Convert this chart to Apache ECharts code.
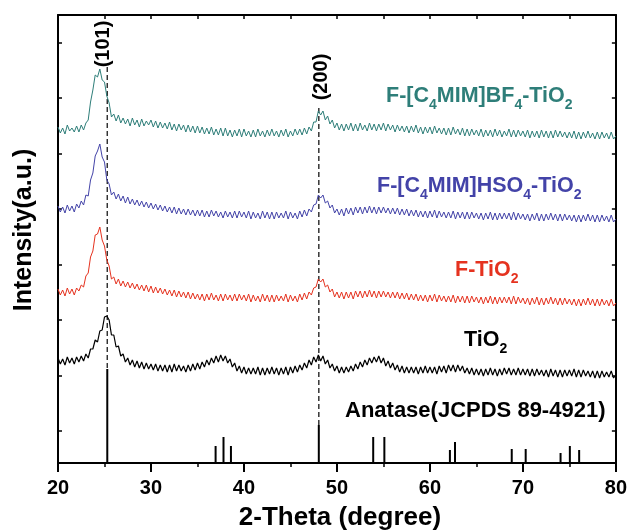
<!DOCTYPE html>
<html><head><meta charset="utf-8">
<script src="https://cdn.jsdelivr.net/npm/echarts@6/dist/echarts.min.js"></script>
<style>html,body{margin:0;padding:0;background:#fff}#c{width:630px;height:530px}</style>
</head><body><div id="c"></div><script>
// 2-Theta sampling of the patterns (degrees)
const thetaStart = 20, thetaStep = 0.25;

// Intensity (a.u., offset stacked), 20..80 deg every 0.25 deg
const bf4Values = [336,330,335,329, 338,332,335,331, 337,331,338,333, 340,343,361,373, 388,386,394,383, 381,367,360,346, 349,342,348,340, 345,339,344,337, 345,338,343,336, 344,337,342,338, 343,336,342,335, 341,335,340,334, 341,333,339,332, 339,333,338,331, 338,331,337,330, 337,330,336,329, 335,329,336,328, 334,328,335,327, 335,327,333,326, 333,327,334,326, 334,327,332,326, 333,326,334,327, 332,326,333,327, 334,327,332,326, 333,327,334,326, 332,327,334,328, 334,328,335,329, 336,332,341,341, 352,348,352,343, 347,339,343,335, 340,333,339,332, 339,333,340,332, 339,332,340,333, 338,332,340,333, 339,332,339,333, 340,332,339,333, 338,331,338,332, 337,331,337,330, 337,331,338,330, 336,329,336,330, 336,329,337,330, 335,329,335,328, 335,328,336,329, 334,328,335,327, 334,327,334,328, 333,327,334,326, 333,327,333,326, 334,327,333,326, 332,327,334,326, 333,326,333,327, 332,326,333,325, 332,326,332,325, 333,326,332,325, 332,325,333,326, 332,326,331,325, 331,325,332,324, 331,324,331,325, 332,325,330,324, 331,324,331,325, 330,324,331,324, 327];
const hso4Values = [257,251,256,250, 258,252,257,251, 259,255,262,258, 268,267,283,290, 307,312,319,306, 301,283,279,268, 271,264,269,262, 267,260,266,259, 264,258,263,257, 262,256,261,255, 260,254,259,253, 258,252,257,251, 256,250,256,249, 255,249,254,248, 254,248,253,247, 253,247,253,246, 252,246,253,247, 252,246,251,245, 252,246,251,245, 252,245,252,246, 251,245,252,244, 251,245,250,244, 252,245,251,244, 251,244,251,245, 250,245,252,244, 251,245,250,244, 252,246,253,247, 254,251,258,259, 268,265,268,260, 262,255,258,250, 254,248,254,247, 255,249,255,248, 256,250,256,249, 256,250,257,250, 256,249,256,250, 256,250,255,249, 255,249,255,248, 254,248,254,247, 253,247,253,246, 252,246,252,245, 252,246,253,245, 252,246,251,245, 251,245,252,244, 251,245,251,244, 251,244,251,245, 250,244,250,243, 250,244,251,243, 250,243,250,244, 250,244,250,243, 251,243,250,244, 249,243,249,242, 249,243,250,242, 249,242,249,243, 250,243,249,242, 249,242,249,243, 248,242,248,241, 248,241,248,242, 249,242,248,241, 248,241,248,242, 247,241,248,241, 244];
const fTiO2Values = [174,168,173,167, 175,169,174,168, 175,172,178,176, 187,190,206,212, 228,229,236,223, 217,203,197,184, 186,179,184,177, 182,176,181,175, 180,174,179,173, 178,172,178,171, 177,170,176,170, 175,169,174,168, 173,167,173,166, 172,166,171,165, 171,164,170,164, 169,163,169,162, 169,163,170,163, 168,162,169,162, 169,163,168,162, 169,162,169,163, 168,162,169,161, 168,162,167,161, 169,162,168,161, 168,161,168,162, 167,162,169,161, 168,162,167,161, 169,163,170,164, 171,168,175,176, 184,181,184,176, 178,171,174,166, 171,165,171,164, 171,165,171,164, 172,166,172,165, 172,166,173,166, 172,165,172,166, 172,166,171,165, 171,165,171,164, 170,164,170,163, 169,163,169,162, 168,162,168,161, 168,162,169,161, 168,162,167,161, 167,161,168,160, 167,161,167,160, 167,160,167,161, 166,160,166,159, 166,160,167,159, 166,159,166,160, 166,160,166,159, 167,159,166,160, 165,159,165,158, 165,159,166,158, 165,158,165,159, 166,159,165,158, 165,158,165,159, 164,158,164,157, 164,157,164,158, 165,158,164,157, 164,157,164,158, 163,157,164,157, 160];
const tio2Values = [105,99,104,98, 106,100,105,99, 106,101,107,102, 109,105,114,114, 123,121,132,133, 146,147,143,128, 128,116,117,107, 109,101,105,98, 103,96,102,95, 101,94,100,94, 99,93,99,92, 98,92,98,91, 98,91,99,92, 98,92,97,91, 98,92,99,93, 100,94,101,96, 103,98,105,100, 107,101,108,102, 107,100,104,96, 100,92,97,90, 96,89,95,89, 95,89,96,88, 95,88,95,89, 96,89,95,88, 95,89,96,88, 96,90,97,91, 98,93,100,95, 103,98,106,101, 108,102,107,99, 103,95,99,92, 97,90,96,90, 96,91,97,92, 99,94,101,96, 103,98,105,100, 106,101,107,100, 105,97,102,95, 100,93,98,91, 97,90,96,90, 96,90,96,89, 96,90,97,90, 96,90,96,89, 97,91,97,90, 98,92,98,91, 98,92,97,90, 95,89,95,88, 94,88,94,87, 94,88,95,88, 94,87,94,88, 95,89,95,88, 94,88,95,88, 94,88,94,87, 94,87,94,88, 93,87,93,86, 94,87,93,86, 93,86,93,87, 93,87,94,86, 93,86,93,87, 92,86,92,85, 92,85,92,86, 91,86,92,85, 88];

// Anatase JCPDS 89-4921 reference lines
const stickPositions = [25.3, 36.95, 37.8, 38.6, 48.05, 53.9, 55.1, 62.15, 62.7, 68.8, 70.3, 74.05, 75.05, 76.05];
const stickHeights   = [94, 17, 26, 17, 38, 26, 26, 13, 21, 14, 14, 10, 17, 13];

// guide lines for (101) and (200)
const peakPositions = [25.3, 48.05];
const peakNames = ['(101)', '(200)'];
const dashTop = [396, 355];
const dashBottom = [94, 38];

// axis ticks
const xTickInterval = 10;
const yTickValues = [32, 87.5, 143, 198.5, 254, 309.5, 365, 420.5];

const FF = "'Liberation Sans', Arial, sans-serif";
const TEAL = '#2e7e79', BLUE = '#4343a8', RED = '#e5321f', BLACK = '#000000';

function pairs(vals) { return vals.map((v, i) => [thetaStart + i * thetaStep, v]); }

function richLabel(parts, color) {
  const text = parts.map(p => '{' + (p[1] ? 's' : 'm') + '|' + p[0] + '}').join('');
  return {
    text: text,
    x: 0, y: 0,
    align: 'left', verticalAlign: 'top', textAlign: 'left', textVerticalAlign: 'top',
    rich: {
      m: { fontSize: 21.5, fontWeight: 'bold', fontFamily: FF, fill: color, lineHeight: 22, verticalAlign: 'top' },
      s: { fontSize: 14, fontWeight: 'bold', fontFamily: FF, fill: color, lineHeight: 14, verticalAlign: 'top', padding: [13, 0, 0, 0] }
    }
  };
}

const chart = echarts.init(document.getElementById('c'));

const lineSeries = [
  { name: 'F-[C4MIM]BF4-TiO2', data: bf4Values, color: TEAL, w: 1.0 },
  { name: 'F-[C4MIM]HSO4-TiO2', data: hso4Values, color: BLUE, w: 1.0 },
  { name: 'F-TiO2', data: fTiO2Values, color: RED, w: 1.0 },
  { name: 'TiO2', data: tio2Values, color: BLACK, w: 1.2 }
].map(s => ({
  type: 'line', name: s.name, data: pairs(s.data), showSymbol: false, symbol: 'none',
  xAxisIndex: 0, yAxisIndex: 0, z: 3,
  lineStyle: { color: s.color, width: s.w }, itemStyle: { color: s.color }
}));

const dashSeries = peakPositions.map((p, i) => ({
  type: 'line', name: peakNames[i], data: [[p, dashTop[i]], [p, dashBottom[i]]],
  showSymbol: false, symbol: 'none', z: 2,
  lineStyle: { color: '#333', width: 1.5, type: [5, 3] }
}));

const stickSeries = {
  type: 'bar', name: 'Anatase', data: stickPositions.map((p, i) => [p, stickHeights[i]]),
  barWidth: 2, itemStyle: { color: '#000' }, z: 2
};

const option = {
  animation: false,
  backgroundColor: '#fff',
  grid: { left: 58, right: 14, top: 15, bottom: 67, containLabel: false },
  xAxis: [
    {
      type: 'value', position: 'bottom', min: 20, max: 80, interval: xTickInterval,
      axisLine: { show: true, onZero: false, lineStyle: { color: '#000', width: 2 } },
      axisTick: { show: true, inside: false, length: 9, lineStyle: { color: '#000', width: 2 } },
      minorTick: { show: true, splitNumber: 2, length: 4, lineStyle: { color: '#000', width: 1.5 } },
      axisLabel: { show: true, margin: 15, fontSize: 20, fontWeight: 'bold', fontFamily: FF, color: '#000' },
      splitLine: { show: false }
    },
    {
      type: 'value', position: 'top', min: 20, max: 80, interval: 5,
      axisLine: { show: true, onZero: false, lineStyle: { color: '#000', width: 2 } },
      axisTick: { show: true, inside: true, length: 4, lineStyle: { color: '#000', width: 1.5 } },
      axisLabel: { show: false }, splitLine: { show: false }
    }
  ],
  yAxis: [
    {
      type: 'value', position: 'left', min: 0, max: 448,
      axisLine: { show: true, onZero: false, lineStyle: { color: '#000', width: 2 } },
      axisTick: { show: true, inside: true, length: 4, customValues: yTickValues, lineStyle: { color: '#000', width: 1.5 } },
      axisLabel: { show: false }, splitLine: { show: false }
    },
    {
      type: 'value', position: 'right', min: 0, max: 448,
      axisLine: { show: true, onZero: false, lineStyle: { color: '#000', width: 2 } },
      axisTick: { show: true, inside: true, length: 4, customValues: yTickValues, lineStyle: { color: '#000', width: 1.5 } },
      axisLabel: { show: false }, splitLine: { show: false }
    }
  ],
  series: [stickSeries].concat(dashSeries, lineSeries),
  graphic: [
    { type: 'text', x: 386, y: 85, z: 100, style: richLabel([['F-[C', 0], ['4', 1], ['MIM]BF', 0], ['4', 1], ['-TiO', 0], ['2', 1]], TEAL) },
    { type: 'text', x: 377, y: 175, z: 100, style: richLabel([['F-[C', 0], ['4', 1], ['MIM]HSO', 0], ['4', 1], ['-TiO', 0], ['2', 1]], BLUE) },
    { type: 'text', x: 455, y: 259, z: 100, style: richLabel([['F-TiO', 0], ['2', 1]], RED) },
    { type: 'text', x: 464, y: 329, z: 100, style: richLabel([['TiO', 0], ['2', 1]], BLACK) },
    { type: 'text', x: 345, y: 400, z: 100, style: { text: 'Anatase(JCPDS 89-4921)', x: 0, y: 0, fill: '#000', font: 'bold 22px ' + FF, align: 'left', verticalAlign: 'top', textAlign: 'left', textVerticalAlign: 'top' } },
    { type: 'text', x: 103, y: 44, rotation: Math.PI / 2, z: 100, style: { text: peakNames[0], x: 0, y: 0, fill: '#000', font: 'bold 20px ' + FF, align: 'center', verticalAlign: 'middle', textAlign: 'center', textVerticalAlign: 'middle' } },
    { type: 'text', x: 321, y: 77, rotation: Math.PI / 2, z: 100, style: { text: peakNames[1], x: 0, y: 0, fill: '#000', font: 'bold 20px ' + FF, align: 'center', verticalAlign: 'middle', textAlign: 'center', textVerticalAlign: 'middle' } },
    { type: 'text', x: 24, y: 230, rotation: Math.PI / 2, z: 100, style: { text: 'Intensity(a.u.)', x: 0, y: 0, fill: '#000', font: 'bold 25px ' + FF, align: 'center', verticalAlign: 'middle', textAlign: 'center', textVerticalAlign: 'middle' } },
    { type: 'text', x: 340, y: 518, z: 100, style: { text: '2-Theta (degree)', x: 0, y: 0, fill: '#000', font: 'bold 26px ' + FF, align: 'center', verticalAlign: 'middle', textAlign: 'center', textVerticalAlign: 'middle' } }
  ]
};
chart.setOption(option);
</script></body></html>
